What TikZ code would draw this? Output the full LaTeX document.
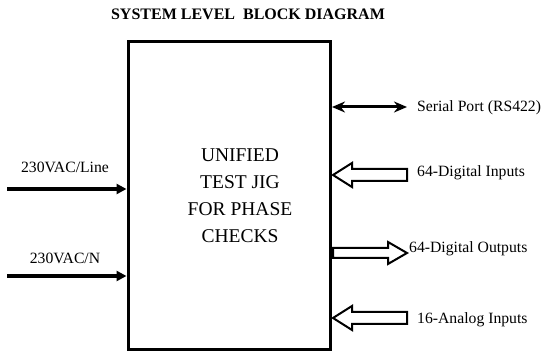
\documentclass[tikz,border=0pt]{standalone}
\usepackage{fontspec}
\setmainfont{Liberation Serif}
\usetikzlibrary{arrows.meta}
\begin{document}
\begin{tikzpicture}[x=1pt,y=-1pt,
  lbl/.style={inner sep=0pt, font=\fontsize{15.7}{18}\selectfont},
  sidelbl/.style={lbl, anchor=west},
  thickarrow/.style={line width=3.5pt, -{Triangle[length=10pt,width=10pt]}},
  hollow/.style={draw, line width=2pt, fill=white, line join=miter}]
\useasboundingbox (0,0) rectangle (542,352);
% title
\node[inner sep=0pt, font=\fontsize{16}{18}\selectfont\bfseries] (title) at (248,14) {SYSTEM LEVEL\ \ BLOCK DIAGRAM};
% main block
\node[draw, line width=3pt, minimum width=202pt, minimum height=308pt, inner sep=0pt] (jig) at (229,196) {};
\node[align=center, inner sep=0pt, font=\fontsize{19.5}{27}\selectfont] (jigtext) at (240,196) {UNIFIED\\TEST JIG\\FOR PHASE\\CHECKS};
% left inputs
\coordinate (lineS) at (7,189);
\coordinate (nS) at (7,276);
\coordinate (lineE) at (jig.west |- lineS);
\coordinate (nE) at (jig.west |- nS);
\draw[thickarrow] (lineS) -- (lineE);
\draw[thickarrow] (nS) -- (nE);
\node[lbl] (linelbl) at (65,167) {230VAC/Line};
\node[lbl] (nlbl) at (65,258) {230VAC/N};
% serial
\node[sidelbl] (serial) at (417,108) {Serial Port (RS422)};
\coordinate (serA) at (332,107);
\coordinate (serB) at (407,107);
\draw[line width=3pt, {Stealth[length=13pt,width=11pt]}-{Stealth[length=13pt,width=11pt]}] (serA) -- (serB);
% hollow arrows
\draw[hollow] (333,175) -- (352,163) -- (352,169) -- (407,169) -- (407,181) -- (352,181) -- (352,187) -- cycle;
\node[sidelbl] (din) at (417,173) {64-Digital Inputs};
\draw[hollow] (407,253) -- (388,242) -- (388,248) -- (333,248) -- (333,258) -- (388,258) -- (388,264) -- cycle;
\node[sidelbl] (dout) at (409,249) {64-Digital Outputs};
\draw[hollow] (333,318) -- (352,306) -- (352,312) -- (407,312) -- (407,324) -- (352,324) -- (352,330) -- cycle;
\node[sidelbl] (ain) at (417,320) {16-Analog Inputs};
\end{tikzpicture}
\end{document}
